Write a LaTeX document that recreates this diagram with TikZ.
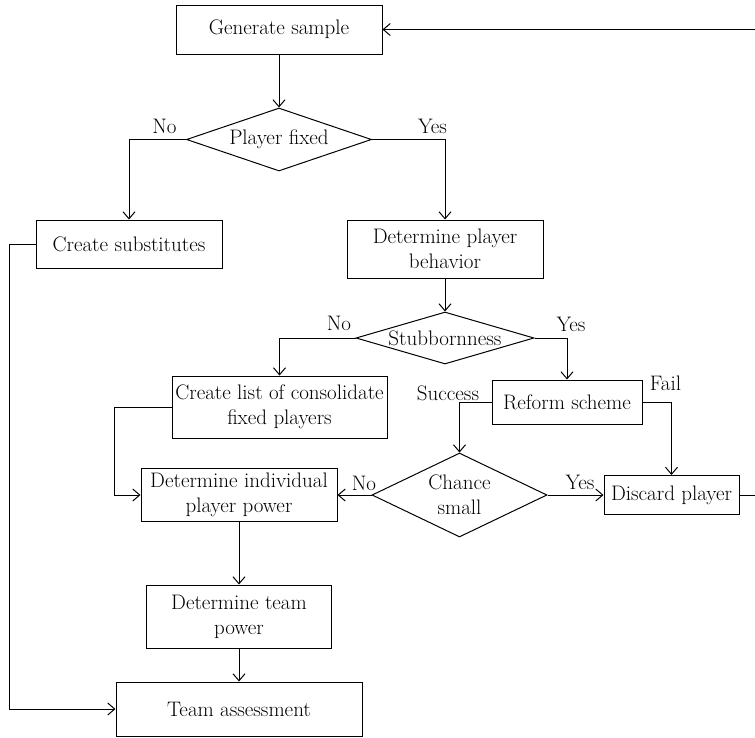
\documentclass[tikz,border=0pt]{standalone}
\usetikzlibrary{shapes.geometric,arrows.meta}

\def \lineWidth {1pt}
\def \textFont {\fontsize{21}{25}\selectfont}

\tikzset{
  block/.style={draw, line width=\lineWidth, rectangle, inner sep=0pt, align=center, font=\textFont},
  decision/.style={draw, line width=\lineWidth, diamond, aspect=2.5, inner sep=0pt, align=center, font=\textFont},
  tag/.style={inner sep=0pt, font=\textFont},
  link/.style={line width=\lineWidth, -{Straight Barb[length=7pt,width=12pt]}},
}

\begin{document}
\begin{tikzpicture}[x=1pt, y=-1pt]
         \useasboundingbox (0, 0) rectangle (755, 737);

         % Boxes and decisions
         \node[block, minimum width=206pt, minimum height=49pt] (gen) at (279, 29.5) {Generate sample};
         \node[decision, minimum width=185pt, minimum height=63pt] (fixed) at (279, 139.5) {Player fixed};
         \node[block, minimum width=186pt, minimum height=48pt] (subst) at (129, 244) {Create substitutes};
         \node[block, minimum width=196pt, minimum height=58pt] (behav) at (445, 249) {Determine player\\behavior};
         \node[decision, aspect=3.4, inner xsep=-15pt, minimum width=178pt, minimum height=52pt] (stub) at (445, 338) {Stubbornness};
         \node[block, minimum width=215pt, minimum height=62pt] (consol) at (279.5, 407) {Create list of consolidate\\fixed players};
         \node[block, minimum width=150pt, minimum height=44pt] (reform) at (567, 402) {Reform scheme};
         \node[decision, minimum width=175pt, minimum height=84pt] (chance) at (459.5, 495) {Chance\\small};
         \node[block, minimum width=196pt, minimum height=53pt] (indiv) at (239, 495) {Determine individual\\player power};
         \node[block, minimum width=135pt, minimum height=39pt] (discard) at (671.5, 495) {Discard player};
         \node[block, minimum width=185pt, minimum height=63pt] (team) at (239, 616.5) {Determine team\\power};
         \node[block, minimum width=246pt, minimum height=54pt] (assess) at (239, 709) {Team assessment};

         % Branch labels
         \node[tag] (fixedno) at (164.5, 126) {No};
         \node[tag] (fixedyes) at (432.5, 126) {Yes};
         \node[tag] (stubno) at (339, 323) {No};
         \node[tag] (stubyes) at (571, 324) {Yes};
         \node[tag] (success) at (448, 393) {Success};
         \node[tag] (fail) at (665.5, 383) {Fail};
         \node[tag] (chanceno) at (364, 483) {No};
         \node[tag] (chanceyes) at (580, 482) {Yes};

         % Loop back at the right edge
         \coordinate (loopin) at (755, 29.5);
         \coordinate (loopout) at (755, 495);

         % Connectors
         \draw[link] (gen) -- (fixed);
         \draw[link] (fixed.west) -| (subst.north);
         \draw[link] (fixed.east) -| (behav.north);
         \draw[link] (subst.west) -- ++(-26, 0) |- (assess.west);
         \draw[link] (behav) -- (stub);
         \draw[link] (stub.west) -| (consol.north);
         \draw[link] (stub.east) -| (reform.north);
         \draw[link] (consol.west) -- ++(-57, 0) |- (indiv.west);
         \draw[link] (reform.west) -| (chance.north);
         \draw[link] (reform.east) -| (discard.north);
         \draw[link] (chance.west) -- (indiv.east);
         \draw[link] (chance.east) -- (discard.west);
         \draw[link] (indiv) -- (team);
         \draw[link] (team) -- (assess);
         \draw[line width=\lineWidth] (discard.east) -- (loopout);
         \draw[link] (loopin) -- (gen.east);
      \end{tikzpicture}
\end{document}
